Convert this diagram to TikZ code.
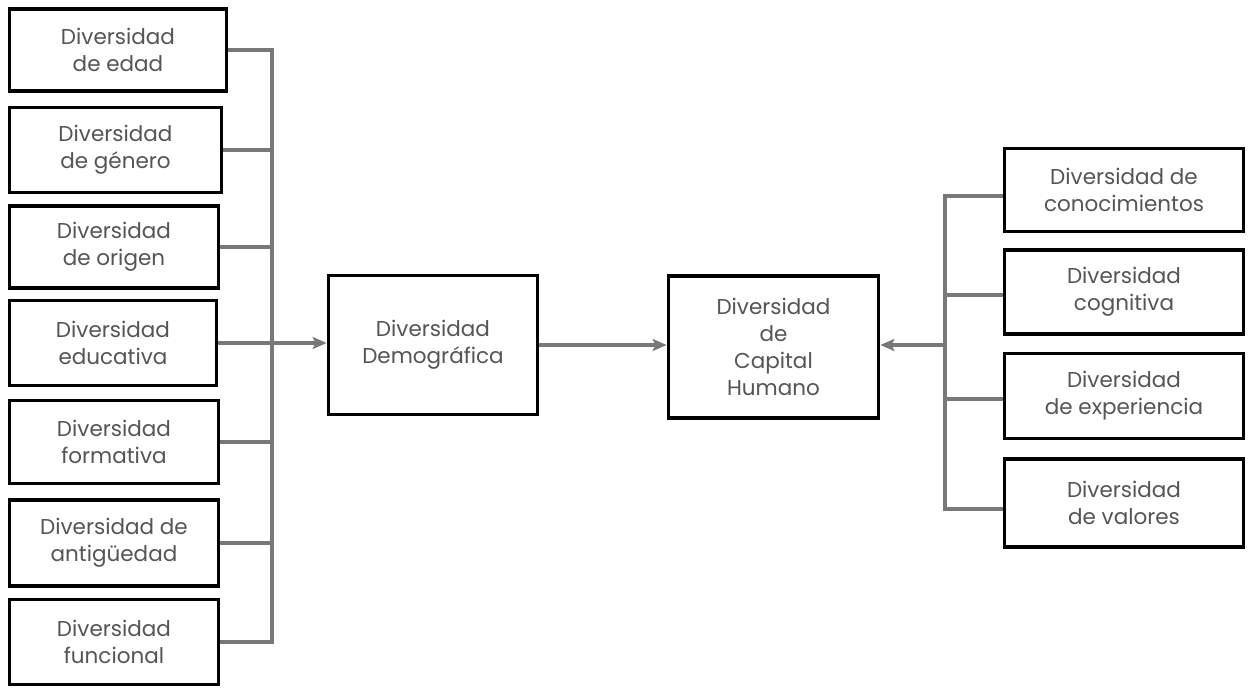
\documentclass[tikz,border=0pt]{standalone}
\usepackage{fontspec}
\setmainfont{Poppins}
\usetikzlibrary{arrows.meta}
\definecolor{txtgray}{RGB}{85,85,85}
\definecolor{lngray}{RGB}{120,120,120}
\tikzset{
  box/.style={draw=black, line width=3.8pt, fill=white, inner sep=0pt,
    align=center, text=txtgray, font=\fontsize{21.5}{27}\selectfont},
  conn/.style={draw=lngray, line width=3.4pt},
  arr/.style={conn, -{Stealth[length=14pt,width=12pt,inset=3pt]}},
}
\begin{document}
\begin{tikzpicture}[x=1pt,y=-1pt]
\useasboundingbox[fill=white] (0,0) rectangle (1248,688);
% left column
\node[box, minimum width=217pt, minimum height=82pt] (l1) at (118,50) {Diversidad\\de edad};
\node[box, minimum width=212pt, minimum height=85pt] (l2) at (115.5,150) {Diversidad\\de género};
\node[box, minimum width=209pt, minimum height=82pt] (l3) at (114,247) {Diversidad\\de origen};
\node[box, minimum width=207pt, minimum height=85pt] (l4) at (113,343) {Diversidad\\educativa};
\node[box, minimum width=209pt, minimum height=83pt] (l5) at (114,442) {Diversidad\\formativa};
\node[box, minimum width=209pt, minimum height=86pt] (l6) at (114,543) {Diversidad de\\antigüedad};
\node[box, minimum width=209pt, minimum height=85pt] (l7) at (114,642) {Diversidad\\funcional};
% centre
\node[box, minimum width=209pt, minimum height=139pt] (dem) at (433,345) {Diversidad\\Demográfica};
\node[box, minimum width=210pt, minimum height=142pt] (cap) at (773.5,347) {Diversidad\\de\\Capital\\Humano};
% right column
\node[box, minimum width=239pt, minimum height=83pt] (r1) at (1124,190) {Diversidad de\\conocimientos};
\node[box, minimum width=239pt, minimum height=84pt] (r2) at (1124,292) {Diversidad\\cognitiva};
\node[box, minimum width=239pt, minimum height=85pt] (r3) at (1124,396) {Diversidad\\de experiencia};
\node[box, minimum width=239pt, minimum height=88pt] (r4) at (1124,503) {Diversidad\\de valores};
% bus coordinates
\coordinate (lb) at (272,0);
\coordinate (rb) at (945,0);
% left bus
\draw[conn] (l1.east) -- (l1.east -| lb) -- (l7.east -| lb) -- (l7.east);
\foreach \n in {l2,l3,l5,l6} \draw[conn] (\n.east) -- (\n.east -| lb);
\draw[conn] (l4.east) -- (l4.east -| lb);
\draw[arr] (l4.east -| lb) -- (l4.east -| dem.west);
% centre arrow
\draw[arr] (dem.east) -- (dem.east -| cap.west);
% right bus
\draw[conn] ([yshift=-6pt]r1.west) -- ([yshift=-6pt]r1.west -| rb) -- ([yshift=-6pt]r4.west -| rb) -- ([yshift=-6pt]r4.west);
\foreach \n in {r2,r3} \draw[conn] ([yshift=-3pt]\n.west) -- ([yshift=-3pt]\n.west -| rb);
\draw[arr] (dem.east -| rb) -- (dem.east -| cap.east);
\end{tikzpicture}
\end{document}
